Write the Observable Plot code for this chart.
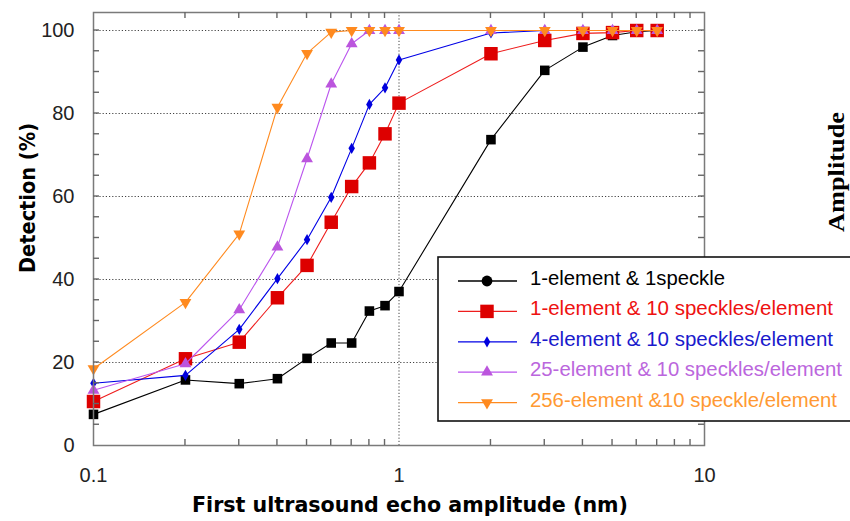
<!DOCTYPE html>
<html><head><meta charset="utf-8">
<script src="https://cdn.jsdelivr.net/npm/d3@7"></script>
<script src="https://cdn.jsdelivr.net/npm/@observablehq/plot@0.6"></script>
<style>body{margin:0;background:#fff;} svg{display:block}</style>
</head><body><div id="chart"></div>
<script>
// ---- data ----
const amplitudes = [0.1,0.2,0.3,0.4,0.5,0.6,0.7,0.8,0.9,1,2,3,4,5,6,7];
const seriesNames = [
  "1-element & 1speckle",
  "1-element & 10 speckles/element",
  "4-element & 10 speckles/element",
  "25-element & 10 speckles/element",
  "256-element &10 speckle/element"
];
const oneElement1Speckle   = [7.5,15.8,14.9,16.1,21.0,24.7,24.7,32.4,33.7,37.1,73.7,90.4,96.0,98.8,99.7,100];
const oneElement10Speckles = [10.6,20.9,24.9,35.6,43.4,53.8,62.4,68.1,75.1,82.5,94.4,97.6,99.3,99.5,100,100];
const fourElement          = [15.0,16.9,28.0,40.2,49.6,59.8,71.6,82.2,86.2,92.9,99.4,100,100,100,100,100];
const twentyFiveElement    = [13.3,19.7,32.7,47.8,69.1,87.1,96.8,100,100,100,100,100,100,100,100,100];
const twoFiftySixElement   = [18.5,34.5,51.0,81.5,94.5,99.6,100,100,100,100,100,100,100,100,100,100];
const seriesValues = [oneElement1Speckle, oneElement10Speckles, fourElement, twentyFiveElement, twoFiftySixElement];
const yTickLabels = [0,20,40,60,80,100];
const yGrid = [20,40,60,80,100];
const yMinorTicks = d3.range(5,105,5);
const xTickLabels = [0.1,1,10];
const xMinorTicks = [0.2,0.3,0.4,0.5,0.6,0.7,0.8,0.9,2,3,4,5,6,7,8,9];

// ---- styles ----
const lineColors = ["#000000","#ee1c1c","#0000e6","#bb55ee","#ff8a1f"];
const fillColors = ["#000000","#dd0000","#0000dd","#bb55dd","#ff8a1f"];
const textColors = ["#000000","#ee1111","#1a1acc","#bb66dd","#ff9933"];
const symbolTypes = ["square","square","diamond","triangle","triangle"];
const symbolR = [5.4,7.6,3.4,4.4,4.4];
const symbolRot = [0,0,0,0,180];

const rows = [];
seriesNames.forEach((name, s) => {
  amplitudes.forEach((a, i) => rows.push({series: name, s, x: a, y: seriesValues[s][i]}));
});

const seriesMarks = [];
seriesNames.forEach((name, s) => {
  const d = rows.filter(r => r.s === s);
  seriesMarks.push(Plot.line(d, {x: "x", y: "y", stroke: lineColors[s], strokeWidth: 1.1}));
  seriesMarks.push(Plot.dot(d, {x: "x", y: "y", symbol: symbolTypes[s], r: symbolR[s],
    fill: fillColors[s], stroke: "none", rotate: symbolRot[s]}));
});

const plot = Plot.plot({
  width: 850, height: 521,
  marginLeft: 93, marginRight: 146, marginTop: 12, marginBottom: 76,
  style: {fontFamily: "'Liberation Sans', Arial, sans-serif", fontSize: "20px", color: "#222", background: "#fff"},
  x: {type: "log", domain: [0.1, 10]},
  y: {domain: [0, 104.34]},
  marks: [
    Plot.gridY(yGrid, {stroke: "#444", strokeOpacity: 1, strokeDasharray: "1.2,2"}),
    Plot.gridX([1], {stroke: "#444", strokeOpacity: 1, strokeDasharray: "1.2,2"}),
    ...seriesMarks,
    Plot.axisY(yTickLabels, {anchor: "left", tickSize: 0, tickPadding: 19, fill: "#222", label: null, fontSize: 20}),
    Plot.axisX(xTickLabels, {anchor: "bottom", tickSize: 0, tickPadding: 22, fill: "#222", label: null, fontSize: 20, tickFormat: d => String(d)}),
    Plot.frame({stroke: "#7a7a7a", strokeWidth: 1.5})
  ]
});
document.getElementById("chart").appendChild(plot);

const svg = d3.select(plot);
// ---- inward minor ticks, positioned through Plot's scales ----
const xs = plot.scale("x"), ys = plot.scale("y");
const X0 = xs.apply(0.1), X1 = xs.apply(10), Y0 = ys.apply(0), Y1 = ys.apply(104.34);
const tg = svg.append("g").attr("stroke", "#666").attr("stroke-width", 1.4).attr("fill", "none");
yMinorTicks.forEach(v => {
  const y = ys.apply(v);
  tg.append("line").attr("x1", X0).attr("x2", X0 + 6).attr("y1", y).attr("y2", y);
  tg.append("line").attr("x1", X1).attr("x2", X1 - 6).attr("y1", y).attr("y2", y);
});
xMinorTicks.forEach(v => {
  const x = xs.apply(v);
  tg.append("line").attr("x1", x).attr("x2", x).attr("y1", Y0).attr("y2", Y0 - 6);
  tg.append("line").attr("x1", x).attr("x2", x).attr("y1", Y1).attr("y2", Y1 + 6);
});

// ---- titles and legend ----
svg.append("text")
  .attr("x", 410).attr("y", 512).attr("text-anchor", "middle")
  .attr("font-family", "'DejaVu Sans', sans-serif").attr("font-weight", "bold").attr("font-size", 21)
  .attr("fill", "#000").attr("textLength", 436).attr("lengthAdjust", "spacingAndGlyphs")
  .text("First ultrasound echo amplitude (nm)");
svg.append("text")
  .attr("transform", "translate(35,198) rotate(-90)").attr("text-anchor", "middle")
  .attr("font-family", "'DejaVu Sans', sans-serif").attr("font-weight", "bold").attr("font-size", 21)
  .attr("fill", "#000").attr("textLength", 150).attr("lengthAdjust", "spacingAndGlyphs")
  .text("Detection (%)");
svg.append("text")
  .attr("transform", "translate(844,172) rotate(-90)").attr("text-anchor", "middle")
  .attr("font-family", "'Liberation Serif', 'Times New Roman', serif").attr("font-weight", "bold").attr("font-size", 24)
  .attr("fill", "#000").attr("textLength", 120).attr("lengthAdjust", "spacingAndGlyphs")
  .text("Amplitude");

const lg = svg.append("g");
lg.append("rect").attr("x", 438).attr("y", 257).attr("width", 430).attr("height", 164)
  .attr("fill", "#fff").attr("stroke", "#111").attr("stroke-width", 1.6);
const legendWidths = [195, 303, 303, 312, 307];
const symMap = {square: d3.symbolSquare, diamond: d3.symbolDiamond, triangle: d3.symbolTriangle};
seriesNames.forEach((name, s) => {
  const base = 285 + 30.4 * s;
  const cy = base - 4;
  lg.append("line").attr("x1", 458).attr("x2", 517).attr("y1", cy).attr("y2", cy)
    .attr("stroke", lineColors[s]).attr("stroke-width", 1.3);
  const sym = s === 0 ? d3.symbolCircle : symMap[symbolTypes[s]];
  lg.append("path")
    .attr("d", d3.symbol(sym, Math.PI * symbolR[s] * symbolR[s])())
    .attr("transform", `translate(487,${cy}) rotate(${symbolRot[s]})`)
    .attr("fill", fillColors[s]);
  lg.append("text").attr("x", 530).attr("y", base).attr("text-anchor", "start")
    .attr("font-family", "'Liberation Sans', Arial, sans-serif").attr("font-size", 20)
    .attr("fill", textColors[s]).attr("textLength", legendWidths[s]).attr("lengthAdjust", "spacingAndGlyphs")
    .text(name);
});
</script>
</body></html>
